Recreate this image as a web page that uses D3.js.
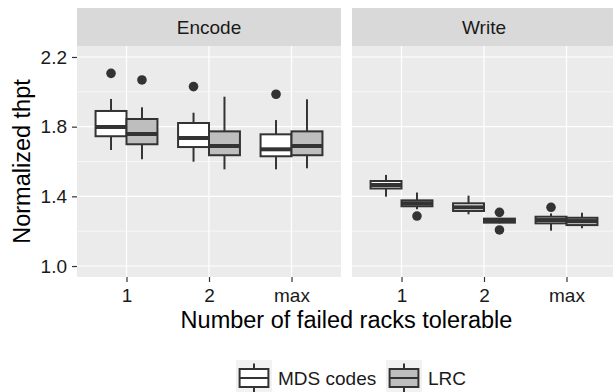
<!DOCTYPE html>
<html>
<head>
<meta charset="utf-8">
<script src="https://cdn.jsdelivr.net/npm/d3@7"></script>
<style>
  body { margin: 0; background: #fff; }
  text { font-family: "Liberation Sans", Arial, Helvetica, sans-serif; }
</style>
</head>
<body>
<svg id="chart" width="613" height="392"></svg>
<script>
// data
const facets = ["Encode", "Write"];
const categories = ["1", "2", "max"];
const groups = ["MDS codes", "LRC"];
const yTicks = [1.0, 1.4, 1.8, 2.2];
const yMinor = [1.2, 1.6, 2.0];

// [lower whisker, q1, median, q3, upper whisker] per category
const encodeMDS = [[1.666, 1.745, 1.798, 1.890, 1.959], [1.599, 1.683, 1.735, 1.821, 1.880], [1.555, 1.630, 1.670, 1.756, 1.838]];
const encodeLRC = [[1.613, 1.699, 1.758, 1.844, 1.911], [1.555, 1.636, 1.689, 1.773, 1.972], [1.561, 1.636, 1.689, 1.773, 1.957]];
const writeMDS = [[1.398, 1.445, 1.465, 1.488, 1.523], [1.297, 1.316, 1.337, 1.360, 1.404], [1.203, 1.245, 1.264, 1.283, 1.302]];
const writeLRC = [[1.326, 1.343, 1.360, 1.377, 1.422], [1.245, 1.249, 1.261, 1.272, 1.276], [1.217, 1.235, 1.258, 1.277, 1.306]];
const encodeMDSout = [[2.106], [2.030], [1.986]];
const encodeLRCout = [[2.068], [], []];
const writeMDSout = [[], [], [1.337]];
const writeLRCout = [[1.287], [1.308, 1.207], []];

const stats = {
  "Encode": {"MDS codes": encodeMDS, "LRC": encodeLRC},
  "Write": {"MDS codes": writeMDS, "LRC": writeLRC}
};
const outliers = {
  "Encode": {"MDS codes": encodeMDSout, "LRC": encodeLRCout},
  "Write": {"MDS codes": writeMDSout, "LRC": writeLRCout}
};

const fills = d3.scaleOrdinal().domain(groups).range(["#ffffff", "#bebebe"]);
const ink = "#333333";

const svg = d3.select("#chart");
const panelW = 264, panelTop = 46, panelBottom = 277, stripTop = 8;
const panelX = d3.scaleOrdinal().domain(facets).range([77, 352]);

const y = d3.scaleLinear().domain([0.937, 2.263]).range([panelBottom, panelTop]);

facets.forEach(f => {
  const x0 = panelX(f);
  const x = d3.scalePoint().domain(categories).range([x0, x0 + panelW]).padding(0.6);
  const step = x.step();
  const dodge = d3.scaleBand().domain(groups).range([-0.375 * step, 0.375 * step]);
  const g = svg.append("g");

  // strip
  g.append("rect").attr("x", x0).attr("y", stripTop).attr("width", panelW)
    .attr("height", panelTop - stripTop).attr("fill", "#d9d9d9");
  g.append("text").attr("x", x0 + panelW / 2).attr("y", (stripTop + panelTop) / 2 + 6.8)
    .attr("text-anchor", "middle").attr("font-size", 19).attr("fill", "#1a1a1a").text(f);

  // panel background + grid
  g.append("rect").attr("x", x0).attr("y", panelTop).attr("width", panelW)
    .attr("height", panelBottom - panelTop).attr("fill", "#ebebeb");
  g.selectAll(".minor").data(yMinor).enter().append("line")
    .attr("x1", x0).attr("x2", x0 + panelW).attr("y1", d => y(d)).attr("y2", d => y(d))
    .attr("stroke", "#fff").attr("stroke-width", 0.6);
  g.selectAll(".major").data(yTicks).enter().append("line")
    .attr("x1", x0).attr("x2", x0 + panelW).attr("y1", d => y(d)).attr("y2", d => y(d))
    .attr("stroke", "#fff").attr("stroke-width", 1.2);
  g.selectAll(".vgrid").data(categories).enter().append("line")
    .attr("x1", d => x(d)).attr("x2", d => x(d)).attr("y1", panelTop).attr("y2", panelBottom)
    .attr("stroke", "#fff").attr("stroke-width", 1.2);

  // x axis
  const xa = g.append("g").attr("transform", `translate(0,${panelBottom})`)
    .call(d3.axisBottom(x).tickSize(5).tickPadding(7));
  xa.select(".domain").remove();
  xa.selectAll(".tick line").attr("stroke", ink).attr("stroke-width", 1.2);
  xa.selectAll(".tick text").attr("font-size", 19).attr("fill", "#1a1a1a")
    .attr("font-family", "Liberation Sans, Arial, sans-serif");

  // boxes
  groups.forEach(gr => {
    categories.forEach((c, i) => {
      const s = stats[f][gr][i];
      const bx = x(c) + dodge(gr);
      const bw = dodge.bandwidth();
      const cx = bx + bw / 2;
      g.append("line").attr("x1", cx).attr("x2", cx).attr("y1", y(s[0])).attr("y2", y(s[1]))
        .attr("stroke", ink).attr("stroke-width", 2);
      g.append("line").attr("x1", cx).attr("x2", cx).attr("y1", y(s[3])).attr("y2", y(s[4]))
        .attr("stroke", ink).attr("stroke-width", 2);
      g.append("rect").attr("x", bx).attr("y", y(s[3])).attr("width", bw)
        .attr("height", y(s[1]) - y(s[3])).attr("fill", fills(gr))
        .attr("stroke", ink).attr("stroke-width", 2);
      g.append("line").attr("x1", bx).attr("x2", bx + bw).attr("y1", y(s[2])).attr("y2", y(s[2]))
        .attr("stroke", ink).attr("stroke-width", 4);
      g.selectAll(null).data(outliers[f][gr][i]).enter().append("circle")
        .attr("cx", cx).attr("cy", d => y(d)).attr("r", 4.8).attr("fill", ink);
    });
  });
});

// y axis (left panel only)
const ya = svg.append("g").attr("transform", `translate(${panelX("Encode")},0)`)
  .call(d3.axisLeft(y).tickValues(yTicks).tickFormat(d3.format(".1f")).tickSize(5).tickPadding(5));
ya.select(".domain").remove();
ya.selectAll(".tick line").attr("stroke", ink).attr("stroke-width", 1.2);
ya.selectAll(".tick text").attr("font-size", 19).attr("fill", "#1a1a1a")
  .attr("font-family", "Liberation Sans, Arial, sans-serif");

// axis titles
svg.append("text").attr("x", (77 + 352 + panelW) / 2).attr("y", 328)
  .attr("text-anchor", "middle").attr("font-size", 23.5).attr("fill", "#000")
  .text("Number of failed racks tolerable");
svg.append("text").attr("transform", `translate(30,${(panelTop + panelBottom) / 2}) rotate(-90)`)
  .attr("text-anchor", "middle").attr("font-size", 23.5).attr("fill", "#000")
  .text("Normalized thpt");

// legend
const keyX = d3.scaleOrdinal().domain(groups).range([236, 386]);
const keySize = 36, keyTop = 360;
groups.forEach(gr => {
  const kx = keyX(gr);
  const lg = svg.append("g");
  lg.append("rect").attr("x", kx).attr("y", keyTop).attr("width", keySize).attr("height", keySize)
    .attr("fill", "#f2f2f2");
  const cx = kx + keySize / 2;
  lg.append("line").attr("x1", cx).attr("x2", cx).attr("y1", keyTop + keySize * 0.1).attr("y2", keyTop + keySize * 0.9)
    .attr("stroke", ink).attr("stroke-width", 2);
  lg.append("rect").attr("x", kx + keySize * 0.1).attr("y", keyTop + keySize * 0.25)
    .attr("width", keySize * 0.8).attr("height", keySize * 0.5)
    .attr("fill", fills(gr)).attr("stroke", ink).attr("stroke-width", 2);
  lg.append("line").attr("x1", kx + keySize * 0.1).attr("x2", kx + keySize * 0.9)
    .attr("y1", keyTop + keySize / 2).attr("y2", keyTop + keySize / 2)
    .attr("stroke", ink).attr("stroke-width", 2);
  lg.append("text").attr("x", kx + keySize + 6).attr("y", keyTop + keySize / 2 + 6.8)
    .attr("font-size", 19).attr("fill", "#1a1a1a").text(gr);
});
</script>
</body>
</html>
